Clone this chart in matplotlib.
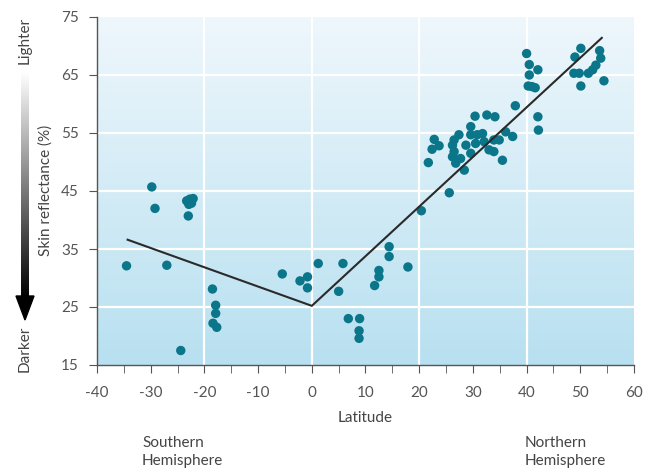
import numpy as np
import matplotlib
matplotlib.use("Agg")
import matplotlib.pyplot as plt
from matplotlib.colors import LinearSegmentedColormap
from matplotlib.patches import Polygon

plt.rcParams['font.family'] = ['Lato', 'DejaVu Sans']
plt.rcParams['axes.unicode_minus'] = False

# Data: (latitude, skin reflectance %)
south_lat = [-34.5, -29.8, -29.2, -27.0, -23.3, -22.7, -22.1, -22.4, -22.9, -23.0,
             -18.5, -17.9, -17.9, -18.4, -17.7, -24.4]
south_val = [32.1, 45.7, 42.0, 32.2, 43.3, 43.6, 43.7, 42.9, 42.7, 40.7,
             28.1, 25.3, 23.9, 22.2, 21.5, 17.5]

equator_lat = [-5.5, -2.2, -0.8, -0.8, 1.2, 5.0, 5.8, 6.8, 8.9, 8.8, 8.8,
               12.5, 12.5, 11.7, 14.4, 14.4, 17.9]
equator_val = [30.7, 29.5, 30.2, 28.3, 32.5, 27.7, 32.5, 23.0, 23.0, 20.9, 19.6,
               31.3, 30.2, 28.7, 35.4, 33.7, 31.9]

north_lat = [20.4, 25.6, 21.7, 22.8, 22.4, 23.7, 26.2, 26.5, 26.2, 26.8, 26.5,
             27.4, 27.7, 28.4, 28.7, 29.6, 29.6, 29.6, 30.5, 30.8, 31.8, 32.1,
             33.0, 33.9, 33.9, 34.9, 35.5, 36.1, 37.4, 30.4, 32.6, 34.1, 37.9,
             40.0, 40.5, 42.1, 40.5, 40.3, 41.0, 41.6, 42.1, 42.2,
             49.0, 50.1, 53.6, 53.8, 52.9, 52.3, 51.5, 49.8, 48.8, 50.1, 54.4]
north_val = [41.6, 44.7, 49.9, 53.9, 52.2, 52.8, 52.9, 51.8, 50.9, 49.8, 53.8,
             54.7, 50.6, 48.6, 52.9, 56.1, 54.7, 51.5, 53.2, 54.7, 54.9, 53.5,
             52.1, 51.8, 53.8, 53.8, 50.3, 55.2, 54.4, 57.9, 58.1, 57.8, 59.7,
             68.7, 66.8, 65.9, 65.0, 63.1, 63.0, 62.8, 57.8, 55.5,
             68.1, 69.6, 69.2, 67.9, 66.7, 65.9, 65.3, 65.3, 65.3, 63.1, 64.0]

# Fitted trend lines (latitude, reflectance)
fit_lat = [-34.3, 0.0, 54.0]
fit_val = [36.6, 25.2, 71.4]

x_ticks = [-40, -30, -20, -10, 0, 10, 20, 30, 40, 50, 60]
y_ticks = [15, 25, 35, 45, 55, 65, 75]
x_grid = [-20, 0, 20, 40]

W, H = 650, 472
fig = plt.figure(figsize=(W / 100, H / 100), dpi=100)
ax = fig.add_axes([97 / W, 1 - 365 / H, (634 - 97) / W, (365 - 17) / H])
ax.set_xlim(-40, 60)
ax.set_ylim(15, 75)

# background gradient
bg = LinearSegmentedColormap.from_list('bg', ['#b8e0f0', '#eef7fc'])
grad = np.linspace(0, 1, 256).reshape(-1, 1)
ax.imshow(grad, extent=[-40, 60, 15, 75], origin='lower', aspect='auto',
          cmap=bg, zorder=0)

for y in y_ticks[1:-1]:
    ax.axhline(y, color='white', lw=1.6, zorder=1)
for x in x_grid:
    ax.axvline(x, color='white', lw=1.6, zorder=1)

lat = south_lat + equator_lat + north_lat
val = south_val + equator_val + north_val
ax.scatter(lat, val, s=46, color='#0b7689', edgecolors='none', zorder=3)
ax.plot(fit_lat, fit_val, color='#2a2a2a', lw=1.5, zorder=4)

for s in ['top', 'right']:
    ax.spines[s].set_visible(False)
for s in ['left', 'bottom']:
    ax.spines[s].set_color('#555555')
    ax.spines[s].set_linewidth(1.0)

ax.set_xticks(x_ticks)
ax.set_xticks(np.arange(-35, 60, 10), minor=True)
ax.set_yticks(y_ticks)
ax.tick_params(axis='both', which='both', direction='out', length=6,
               color='#555555', labelcolor='#555555', labelsize=11)
ax.tick_params(axis='x', pad=9)
ax.tick_params(axis='y', pad=7)
ax.set_xlabel('Latitude', color='#444444', fontsize=11, labelpad=8)

fig.text(142 / W, 1 - 452 / H, 'Southern\nHemisphere', color='#444444',
         fontsize=11, ha='left', va='center', linespacing=1.35)
fig.text(525 / W, 1 - 452 / H, 'Northern\nHemisphere', color='#444444',
         fontsize=11, ha='left', va='center', linespacing=1.35)

fig.text(46 / W, 1 - 190 / H, 'Skin reflectance (%)', rotation=90,
         color='#444444', fontsize=11, ha='center', va='center')
fig.text(25 / W, 1 - 40 / H, 'Lighter', rotation=90, color='#444444',
         fontsize=11, ha='center', va='center')
fig.text(25 / W, 1 - 349 / H, 'Darker', rotation=90, color='#444444',
         fontsize=11, ha='center', va='center')

# gradient arrow
aa = fig.add_axes([0, 0, 1, 1], zorder=-1)
aa.axis('off')
ag = LinearSegmentedColormap.from_list('ar', ['#ffffff', '#000000'])
aa.imshow(np.linspace(0, 1, 256).reshape(-1, 1), extent=[21, 29, 298, 72],
          cmap=ag, aspect='auto', zorder=1)
aa.add_patch(Polygon([[16, 296], [34, 296], [25, 320]], closed=True,
                     color='black', zorder=2))
aa.set_xlim(0, W)
aa.set_ylim(H, 0)

fig.savefig('out.png', dpi=100)
